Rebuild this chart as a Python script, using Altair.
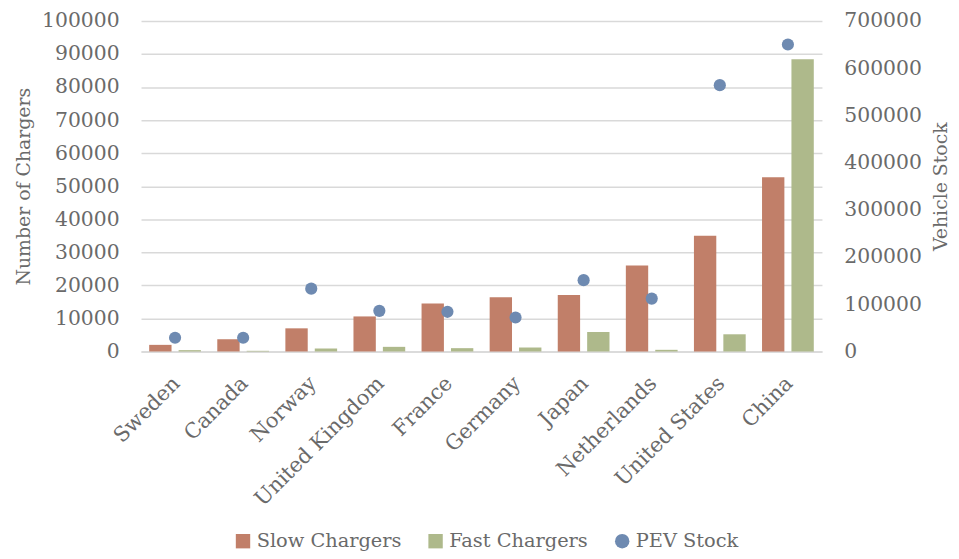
import altair as alt
import pandas as pd

countries = ["Sweden", "Canada", "Norway", "United Kingdom", "France", "Germany",
             "Japan", "Netherlands", "United States", "China"]
slow = [2000, 3700, 7000, 10600, 14500, 16400, 17100, 26000, 35000, 52700]
fast = [400, 200, 900, 1400, 1000, 1200, 5900, 500, 5200, 88400]
pev = [29000, 29000, 133000, 86000, 84000, 72000, 151000, 112000, 564000, 650000]

series = ["Slow Chargers", "Fast Chargers", "PEV Stock"]
colors = ["#C17F69", "#AEB98B", "#6E8AB1"]

bars_df = pd.DataFrame({
    "Country": countries * 2,
    "Series": ["Slow Chargers"] * len(countries) + ["Fast Chargers"] * len(countries),
    "Value": slow + fast,
})
pev_df = pd.DataFrame({"Country": countries, "Series": "PEV Stock", "Stock": pev})

TXT = "#6a6a6a"
FONT = "DejaVu Serif"

color_scale = alt.Scale(domain=series, range=colors)
shape_scale = alt.Scale(domain=series, range=["square", "square", "circle"])

x = alt.X("Country:N", sort=countries,
          scale=alt.Scale(paddingInner=0.24, paddingOuter=0.12),
          axis=alt.Axis(title=None, labelAngle=-45, labelAlign="right", labelBaseline="top",
                        labelFont=FONT, labelFontSize=21, labelColor=TXT, labelPadding=21,
                        labelOffset=-6,
                        ticks=False, domainColor="#D9D9D9", domainWidth=1.5, grid=False))

bars = alt.Chart(bars_df).mark_bar().encode(
    x=x,
    xOffset=alt.XOffset("Series:N", sort=["Slow Chargers", "Fast Chargers"],
                        scale=alt.Scale(paddingInner=0.24)),
    y=alt.Y("Value:Q", scale=alt.Scale(domain=[0, 100000], nice=False),
            axis=alt.Axis(title="Number of Chargers", values=list(range(0, 100001, 10000)),
                          format="d", grid=True, gridColor="#D9D9D9", gridWidth=1.5,
                          domain=False, ticks=False, labelPadding=22,
                          labelFont=FONT, labelFontSize=20.5, labelColor=TXT,
                          titleFont=FONT, titleFontSize=19, titleColor=TXT,
                          titleFontWeight="normal", titlePadding=8)),
    color=alt.Color("Series:N", scale=color_scale,
                    legend=alt.Legend(title=None, orient="none", direction="horizontal",
                                      legendX=93, legendY=514,
                                      labelFont=FONT, labelFontSize=19.5,
                                      labelColor=TXT, symbolSize=210, labelOffset=4,
                                      columnPadding=24)),
)

points = alt.Chart(pev_df).mark_point(filled=True, size=150, opacity=1).encode(
    x=x,
    y=alt.Y("Stock:Q", scale=alt.Scale(domain=[0, 700000], nice=False),
            axis=alt.Axis(title="Vehicle Stock", orient="right",
                          values=list(range(0, 700001, 100000)), format="d",
                          grid=False, domain=False, ticks=False, labelPadding=22,
                          labelFont=FONT, labelFontSize=20.5, labelColor=TXT,
                          titleFont=FONT, titleFontSize=19, titleColor=TXT,
                          titleFontWeight="normal", titleAngle=270, titleBaseline="top",
                          titlePadding=10)),
    color=alt.Color("Series:N", scale=color_scale),
    shape=alt.Shape("Series:N", scale=shape_scale),
)

chart = alt.layer(bars, points).resolve_scale(y="independent").properties(
    width=686, height=333, padding={"left": 6, "top": 1, "right": 0, "bottom": 0}
).configure_view(stroke=None)

chart.save("out.html", embed_options={"renderer": "svg", "actions": False})
